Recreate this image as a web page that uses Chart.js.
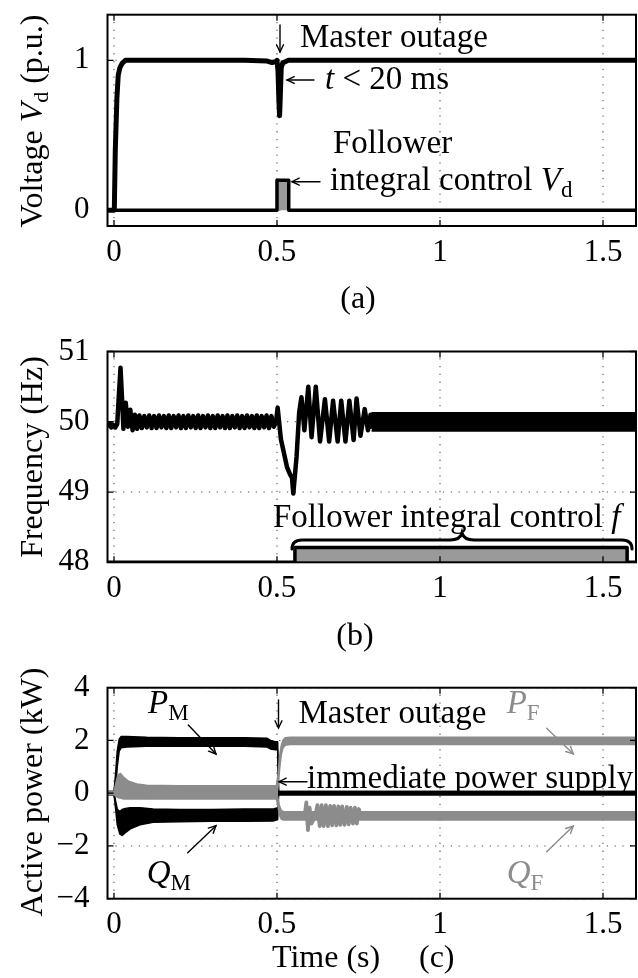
<!DOCTYPE html>
<html><head><meta charset="utf-8">
<script src="https://cdn.jsdelivr.net/npm/chart.js@4/dist/chart.umd.min.js"></script>
<style>
html,body{margin:0;padding:0;background:#fff;}
#wrap{position:relative;width:638px;height:978px;overflow:hidden;background:#fff;}
canvas{position:absolute;left:0;}
</style></head><body><div id="wrap">
<canvas id="ca" width="638" height="1058" style="top:-40px"></canvas>
<canvas id="cb" width="638" height="978" style="top:0px"></canvas>
<canvas id="cc" width="638" height="978" style="top:0px"></canvas>
</div>
<script>
// ---------- tick labels ----------
const timeTicks = [0, 0.5, 1, 1.5];
const vdTicks = [0, 1];
const freqTicks = [48, 49, 50, 51];
const powerTicks = [-4, -2, 0, 2, 4];

// ---------- (a) voltage Vd ----------
const vdTime  = [-0.0199, 0.001, 0.004, 0.009, 0.013, 0.018, 0.025, 0.035, 0.100, 0.200, 0.300, 0.400, 0.470, 0.485, 0.495, 0.500, 0.503, 0.506, 0.508, 0.510, 0.513, 0.518, 0.525, 0.535, 0.800, 1.200, 1.6012];
const vdValue = [0, 0, 0.40, 0.75, 0.90, 0.95, 0.98, 1.00, 1.00, 1.00, 1.00, 1.00, 0.995, 0.985, 0.99, 1.00, 0.93, 0.72, 0.63, 0.75, 0.95, 0.985, 0.99, 1.00, 1.00, 1.00, 1.00];
// follower integral control Vd flag
const vdFlagTime  = [-0.0199, 0.500, 0.500, 0.536, 0.536, 1.6012];
const vdFlagValue = [0, 0, 0.2, 0.2, 0, 0];

// ---------- (b) frequency ----------
const freqTime = [-0.0199, -0.012, -0.008, -0.003, 0.004, 0.010, 0.014, 0.020, 0.025, 0.029, 0.036, 0.043, 0.050, 0.057, 0.064, 0.071,
  0.078, 0.0855, 0.093, 0.1005, 0.108, 0.1155, 0.123, 0.1305, 0.138, 0.1455, 0.153, 0.1605, 0.168, 0.1755, 0.183, 0.1905,
  0.198, 0.2055, 0.213, 0.2205, 0.228, 0.2355, 0.243, 0.2505, 0.258, 0.2655, 0.273, 0.2805, 0.288, 0.2955, 0.303, 0.3105,
  0.318, 0.3255, 0.333, 0.3405, 0.348, 0.3555, 0.363, 0.3705, 0.378, 0.3855, 0.393, 0.4005, 0.408, 0.4155, 0.423, 0.4305,
  0.438, 0.4455, 0.453, 0.4605, 0.468, 0.4755, 0.483, 0.4905,
  0.497, 0.502, 0.512, 0.524, 0.531, 0.540, 0.546, 0.550, 0.560, 0.568, 0.575, 0.584, 0.596, 0.606, 0.619, 0.632, 0.647, 0.660,
  0.672, 0.686, 0.697, 0.710, 0.722, 0.735, 0.744, 0.756, 0.769, 0.779, 0.787, 0.793];
const freqValue = [49.93, 49.97, 49.92, 49.96, 49.92, 49.97, 50.30, 50.77, 50.30, 49.90, 50.27, 49.93, 50.17, 49.88, 50.10, 49.90,
  50.09, 49.91, 50.08, 49.92, 50.09, 49.91, 50.08, 49.91, 50.09, 49.92, 50.08, 49.91, 50.09, 49.91, 50.08, 49.92,
  50.09, 49.91, 50.08, 49.91, 50.09, 49.92, 50.08, 49.91, 50.09, 49.91, 50.08, 49.92, 50.09, 49.91, 50.08, 49.91,
  50.09, 49.92, 50.08, 49.91, 50.09, 49.91, 50.08, 49.92, 50.09, 49.91, 50.08, 49.91, 50.09, 49.92, 50.08, 49.91,
  50.09, 49.91, 50.08, 49.92, 50.09, 49.91, 50.08, 49.93,
  50.00, 50.20, 49.75, 49.50, 49.35, 49.25, 49.20, 48.98, 49.50, 50.13, 50.35, 49.88, 50.50, 49.78, 50.50, 49.72, 50.32, 49.72,
  50.30, 49.72, 50.30, 49.72, 50.30, 49.74, 50.33, 49.80, 50.18, 49.88, 50.10, 49.90];
const freqBandTime  = [0.790, 1.000, 1.6012];
const freqBandUpper = [50.13, 50.13, 50.13];
const freqBandLower = [49.87, 49.87, 49.87];
// follower integral control f flag
const fFlagTime  = [-0.0199, 0.555, 0.555, 1.574, 1.574, 1.6012];
const fFlagValue = [48, 48, 48.21, 48.21, 48, 48];

// ---------- (c) powers (envelopes of the measured bands) ----------
const pmTime  = [-0.0199, 0.000, 0.004, 0.010, 0.016, 0.022, 0.040, 0.100, 0.200, 0.300, 0.400, 0.470, 0.480, 0.495, 0.502, 0.505, 0.520, 1.000, 1.6012];
const pmUpper = [0.06, 0.06, 0.60, 1.60, 2.05, 2.15, 2.15, 2.12, 2.10, 2.10, 2.10, 2.08, 2.00, 1.95, 1.95, 0.06, 0.06, 0.06, 0.06];
const pmLower = [-0.06, -0.06, 0.00, 1.00, 1.60, 1.72, 1.75, 1.78, 1.78, 1.78, 1.78, 1.75, 1.68, 1.65, 1.65, -0.06, -0.06, -0.06, -0.06];

const qmTime  = [-0.0199, 0.000, 0.005, 0.010, 0.018, 0.025, 0.035, 0.050, 0.080, 0.120, 0.200, 0.300, 0.400, 0.490, 0.502, 0.505, 0.520, 1.000, 1.6012];
const qmUpper = [0.06, 0.06, -0.30, -0.60, -0.70, -0.62, -0.58, -0.55, -0.55, -0.60, -0.62, -0.62, -0.60, -0.60, -0.55, 0.06, 0.06, 0.06, 0.06];
const qmLower = [-0.06, -0.06, -0.60, -1.20, -1.55, -1.60, -1.50, -1.35, -1.20, -1.10, -1.08, -1.06, -1.06, -1.05, -1.00, -0.06, -0.06, -0.06, -0.06];

const pfTime  = [-0.0199, 0.000, 0.005, 0.012, 0.020, 0.030, 0.045, 0.070, 0.100, 0.200, 0.300, 0.400, 0.498, 0.503, 0.508, 0.513, 0.518, 0.525, 0.540, 1.000, 1.6012];
const pfUpper = [0.05, 0.05, 0.35, 0.70, 0.75, 0.60, 0.45, 0.35, 0.30, 0.28, 0.28, 0.28, 0.28, 0.70, 1.40, 1.80, 2.00, 2.10, 2.12, 2.12, 2.12];
const pfLower = [-0.05, -0.05, -0.10, 0.05, 0.15, 0.05, -0.05, -0.10, -0.12, -0.12, -0.12, -0.12, -0.10, 0.20, 0.90, 1.45, 1.70, 1.82, 1.85, 1.85, 1.85];

const qfTime  = [-0.0199, 0.000, 0.010, 0.030, 0.100, 0.300, 0.498, 0.503, 0.508, 0.513, 0.520, 1.000, 1.6012];
const qfUpper = [0.05, 0.05, 0.10, 0.10, 0.10, 0.10, 0.10, -0.20, -0.50, -0.65, -0.70, -0.70, -0.70];
const qfLower = [-0.05, -0.05, -0.15, -0.22, -0.22, -0.22, -0.22, -0.50, -0.85, -0.98, -1.02, -1.02, -1.02];
// Q_F oscillation burst after the outage
const qfBurstTime  = [0.580, 0.585, 0.590, 0.595, 0.600, 0.606, 0.618, 0.624, 0.631, 0.637, 0.643, 0.650, 0.656, 0.663, 0.669, 0.675, 0.682, 0.688, 0.694, 0.700, 0.707, 0.714, 0.720, 0.726, 0.733, 0.739, 0.745, 0.751, 0.757];
const qfBurstValue = [-0.86, -0.85, -0.35, -1.40, -0.55, -1.15, -0.85, -0.45, -1.25, -0.45, -1.25, -0.45, -1.25, -0.48, -1.22, -0.48, -1.22, -0.50, -1.20, -0.50, -1.20, -0.52, -1.18, -0.55, -1.15, -0.55, -1.15, -0.60, -0.90];

// ---------- helpers ----------
const FONT = "'Liberation Serif','Times New Roman',serif";
const GREY = '#8c8c8c';
const X_MIN = -0.0199, X_MAX = 1.6012;
const zip = (t, v) => t.map((x, i) => ({x: x, y: v[i]}));

function fnt(style, size) { return (style === 'i' ? 'italic ' : '') + size + 'px ' + FONT; }
function textRuns(ctx, x, y, parts, color, align, size) {
  size = size || 33; align = align || 'left';
  const sub = Math.round(size * 0.7);
  const ws = parts.map(p => { ctx.font = fnt(p[1], p[1] === 's' ? sub : size); return ctx.measureText(p[0]).width; });
  const total = ws.reduce((a, b) => a + b, 0);
  let cx = align === 'center' ? x - total / 2 : x;
  ctx.fillStyle = color || '#000'; ctx.textBaseline = 'alphabetic'; ctx.textAlign = 'left';
  parts.forEach((p, i) => {
    ctx.font = fnt(p[1], p[1] === 's' ? sub : size);
    ctx.fillText(p[0], cx, y + (p[1] === 's' ? size * 0.2 : 0));
    cx += ws[i];
  });
}
function vTitle(ctx, cy, parts) {
  ctx.save(); ctx.translate(41.5, cy); ctx.rotate(-Math.PI / 2);
  textRuns(ctx, 0, 0, parts, '#000', 'center', 32);
  ctx.restore();
}
function arrow(ctx, x1, y1, x2, y2, color) {
  ctx.save(); ctx.strokeStyle = color || '#000'; ctx.lineWidth = 1.4; ctx.lineCap = 'round';
  ctx.beginPath(); ctx.moveTo(x1, y1); ctx.lineTo(x2, y2); ctx.stroke();
  const a = Math.atan2(y2 - y1, x2 - x1), L = 8;
  ctx.beginPath();
  ctx.moveTo(x2 - L * Math.cos(a - 0.45), y2 - L * Math.sin(a - 0.45)); ctx.lineTo(x2, y2);
  ctx.lineTo(x2 - L * Math.cos(a + 0.45), y2 - L * Math.sin(a + 0.45));
  ctx.stroke(); ctx.restore();
}

const gridPlugin = {
  id: 'dotgrid',
  beforeDatasetsDraw(chart) {
    const {ctx, chartArea: a, scales: {x, y}} = chart;
    ctx.save(); ctx.strokeStyle = '#555'; ctx.lineWidth = 1.1; ctx.setLineDash([1.3, 6.5]);
    x.ticks.forEach(t => { const p = x.getPixelForValue(t.value); ctx.beginPath(); ctx.moveTo(p, a.bottom); ctx.lineTo(p, a.top); ctx.stroke(); });
    y.ticks.forEach(t => { const p = y.getPixelForValue(t.value); ctx.beginPath(); ctx.moveTo(a.left, p); ctx.lineTo(a.right, p); ctx.stroke(); });
    ctx.restore();
  }
};
const framePlugin = {
  id: 'frame',
  afterDatasetsDraw(chart) {
    const {ctx, chartArea: a, scales: {x, y}} = chart;
    ctx.save(); ctx.strokeStyle = '#000'; ctx.lineWidth = 2; ctx.setLineDash([]);
    ctx.strokeRect(a.left, a.top, a.right - a.left, a.bottom - a.top);
    ctx.lineWidth = 1.3; const L = 6;
    ctx.beginPath();
    x.ticks.forEach(t => { const p = x.getPixelForValue(t.value); ctx.moveTo(p, a.bottom); ctx.lineTo(p, a.bottom - L); ctx.moveTo(p, a.top); ctx.lineTo(p, a.top + L); });
    y.ticks.forEach(t => { const p = y.getPixelForValue(t.value); ctx.moveTo(a.left, p); ctx.lineTo(a.left + L, p); ctx.moveTo(a.right, p); ctx.lineTo(a.right - L, p); });
    ctx.stroke(); ctx.restore();
  }
};

function tickFmt(v) { return String(v).replace('-', '\u2212'); }

// off = how far the canvas is shifted up (canvas y = page y + off)
function panel(id, o) {
  const off = o.off || 0;
  const H = document.getElementById(id).height;
  return new Chart(document.getElementById(id), {
    type: 'line',
    data: {datasets: o.datasets},
    options: {
      responsive: false, animation: false, devicePixelRatio: 1,
      layout: {padding: {left: 0, right: 2, top: o.top + off, bottom: H - (o.bottom + off) - 70}},
      elements: {point: {radius: 0}, line: {tension: 0, borderJoinStyle: 'round', borderCapStyle: 'butt'}},
      plugins: {legend: {display: false}, tooltip: {enabled: false}},
      scales: {
        x: {type: 'linear', min: X_MIN, max: X_MAX,
            grid: {display: false}, border: {display: false},
            ticks: {font: {family: FONT, size: 31}, color: '#000', padding: 0, maxRotation: 0, autoSkip: false, callback: tickFmt},
            afterBuildTicks: s => { s.ticks = timeTicks.map(v => ({value: v})); },
            afterFit: s => { s.height = 70; }},
        y: {type: 'linear', min: o.ymin, max: o.ymax,
            grid: {display: false}, border: {display: false},
            ticks: {font: {family: FONT, size: 31}, color: '#000', padding: 10, autoSkip: false, callback: tickFmt},
            afterBuildTicks: s => { s.ticks = o.yticks.map(v => ({value: v})); },
            afterFit: s => { s.width = 107.5; }}
      }
    },
    plugins: [gridPlugin, framePlugin, {id: 'ann' + id, afterDraw: c => { c.ctx.save(); c.ctx.translate(0, off); o.annotate(c.ctx); c.ctx.restore(); }}]
  });
}

function band(tArr, up, lo, color) {
  return [
    {data: zip(tArr, up), borderColor: color, borderWidth: 1.5, fill: false},
    {data: zip(tArr, lo), borderColor: color, borderWidth: 1.5, fill: '-1', backgroundColor: color}
  ];
}

// ---------- panel (a) ----------
panel('ca', {
  off: 40, top: 14.7, bottom: 226, ymin: -0.105, ymax: 1.304, yticks: vdTicks,
  datasets: [
    {data: zip(vdTime, vdValue), borderColor: '#000', borderWidth: 5, fill: false},
    {data: zip(vdFlagTime, vdFlagValue), borderColor: '#000', borderWidth: 3.5, fill: {value: 0}, backgroundColor: '#9a9a9a'}
  ],
  annotate(ctx) {
    vTitle(ctx, 121, [['Voltage ', 'n'], ['V', 'i'], ['d', 's'], [' (p.u.)', 'n']]);
    arrow(ctx, 280, 25, 280, 52);
    textRuns(ctx, 300, 46.5, [['Master outage', 'n']]);
    arrow(ctx, 314, 80, 287, 80);
    textRuns(ctx, 325, 89, [['t', 'i'], [' < 20 ms', 'n']]);
    textRuns(ctx, 333, 153, [['Follower', 'n']]);
    arrow(ctx, 320, 181.7, 292, 181.7);
    textRuns(ctx, 330, 190, [['integral control ', 'n'], ['V', 'i'], ['d', 's']]);
    textRuns(ctx, 358, 308, [['(a)', 'n']], '#000', 'center', 32);
  }
});

// ---------- panel (b) ----------
panel('cb', {
  top: 351.5, bottom: 562.3, ymin: 48, ymax: 51, yticks: freqTicks,
  datasets: [
    {data: zip(freqTime, freqValue), borderColor: '#000', borderWidth: 4.5, fill: false},
    ...band(freqBandTime, freqBandUpper, freqBandLower, '#000'),
    {data: zip(fFlagTime, fFlagValue), borderColor: '#000', borderWidth: 3.5, fill: {value: 48}, backgroundColor: '#9a9a9a'}
  ],
  annotate(ctx) {
    vTitle(ctx, 457, [['Frequency (Hz)', 'n']]);
    textRuns(ctx, 273, 527, [['Follower integral control ', 'n'], ['f', 'i']]);
    ctx.save(); ctx.strokeStyle = '#000'; ctx.lineWidth = 3; ctx.lineCap = 'round';
    ctx.beginPath();
    ctx.moveTo(292, 549); ctx.quadraticCurveTo(292, 540, 302, 540);
    ctx.lineTo(450, 540); ctx.quadraticCurveTo(460, 540, 462, 533);
    ctx.quadraticCurveTo(464, 540, 474, 540);
    ctx.lineTo(622, 540); ctx.quadraticCurveTo(632, 540, 632, 549);
    ctx.stroke(); ctx.restore();
    textRuns(ctx, 355, 645, [['(b)', 'n']], '#000', 'center', 32);
  }
});

// ---------- panel (c) ----------
panel('cc', {
  top: 687.7, bottom: 898.7, ymin: -4, ymax: 4, yticks: powerTicks,
  datasets: [
    {data: zip(qfBurstTime, qfBurstValue), borderColor: GREY, borderWidth: 3.8, fill: false},
    ...band(pfTime, pfUpper, pfLower, GREY),
    ...band(qfTime, qfUpper, qfLower, GREY),
    ...band(pmTime, pmUpper, pmLower, '#000'),
    ...band(qmTime, qmUpper, qmLower, '#000')
  ],
  annotate(ctx) {
    vTitle(ctx, 792, [['Active power (kW)', 'n']]);
    arrow(ctx, 278.5, 700, 278.5, 728);
    textRuns(ctx, 298.5, 723, [['Master outage', 'n']]);
    arrow(ctx, 307, 781.7, 279, 781.7);
    textRuns(ctx, 307, 788, [['immediate power supply', 'n']]);
    textRuns(ctx, 148, 713, [['P', 'i'], ['M', 's']]);
    arrow(ctx, 188.3, 725, 216, 754);
    textRuns(ctx, 146.7, 883, [['Q', 'i'], ['M', 's']]);
    arrow(ctx, 187.7, 852.7, 216, 825.7);
    textRuns(ctx, 506.7, 713, [['P', 'i'], ['F', 's']], GREY);
    arrow(ctx, 546.7, 728.3, 573.3, 754, GREY);
    textRuns(ctx, 506.7, 883, [['Q', 'i'], ['F', 's']], GREY);
    arrow(ctx, 546.7, 851.7, 573.3, 826, GREY);
    textRuns(ctx, 272, 967, [['Time (s)', 'n']], '#000', 'left', 32);
    textRuns(ctx, 419, 967, [['(c)', 'n']], '#000', 'left', 32);
  }
});
</script></body></html>
